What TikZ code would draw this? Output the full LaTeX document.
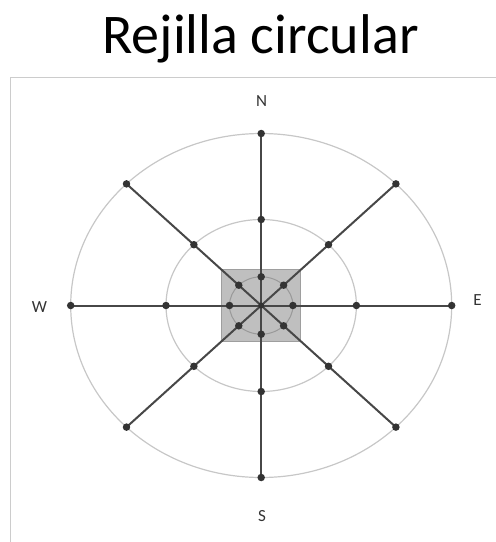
\documentclass[tikz,border=0pt]{standalone}
\usepackage{fontspec}
\setmainfont{Carlito}
\begin{document}
\begin{tikzpicture}[x=1pt,y=-1pt,
  dot/.style={circle,fill=black!80,inner sep=0pt,minimum size=7.5pt},
  spoke/.style={draw=black!72,line width=2pt},
  ring/.style={draw=black!22,line width=1.2pt},
  framebox/.style={draw=black!20,line width=1pt},
  cardinal/.style={font=\fontsize{17}{17}\selectfont,text=black!80,inner sep=0pt}]
\useasboundingbox (0,0) rectangle (496,542);
\clip (0,0) rectangle (496,542);
\def\cx{261.2}\def\cy{305.5}
\node[font=\fontsize{56}{56}\selectfont,anchor=base,inner sep=0pt] (title) at (260.5,53) {Rejilla circular};
\draw[framebox] (10.5,77.5) rectangle (520,560);
\node[draw=black!38,fill=black!25,line width=0.8pt,minimum width=79pt,minimum height=72pt,inner sep=0pt] (sq) at (\cx,\cy) {};
\coordinate (C) at (\cx,\cy);
\draw[ring] (C) ellipse [x radius=190.5, y radius=172];
\draw[ring] (C) ellipse [x radius=95.2, y radius=86];
\draw[draw=black!40,line width=1pt] (C) ellipse [x radius=31.7, y radius=28.7];
\foreach \d/\t in {E/0,NE/45,N/90,NW/135,W/180,SW/225,S/270,SE/315}{
  \foreach \r/\a/\b in {1/31.7/28.7,2/95.2/86,3/190.5/172}{
    \coordinate (\d\r) at ({\cx+\a*cos(\t)},{\cy-\b*sin(\t)});
  }
}
\draw[spoke] (N3) -- (S3);
\draw[spoke] (W3) -- (E3);
\draw[spoke] (NW3) -- (SE3);
\draw[spoke] (NE3) -- (SW3);
\foreach \d in {E,NE,N,NW,W,SW,S,SE}{
  \foreach \r in {1,2,3}{
    \node[dot] (dot\d\r) at (\d\r) {};
  }
}
\node[dot,minimum size=6pt] (dotC) at (C) {};
\node[cardinal] (labN) at (261.7,101) {N};
\node[cardinal] (labS) at (262,516) {S};
\node[cardinal] (labW) at (39.5,307) {W};
\node[cardinal] (labE) at (477.5,300) {E};
\end{tikzpicture}
\end{document}
